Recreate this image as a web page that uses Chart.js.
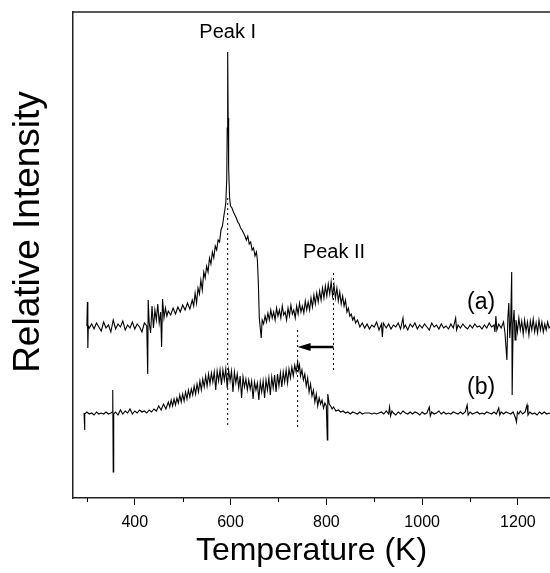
<!DOCTYPE html>
<html>
<head>
<meta charset="utf-8">
<script src="https://cdn.jsdelivr.net/npm/chart.js@4.4.1/dist/chart.umd.min.js"></script>
<style>
  html, body { margin: 0; padding: 0; background: #fff; }
  #wrap { width: 550px; height: 573px; }
</style>
</head>
<body>
<div id="wrap"><canvas id="tl-chart"></canvas></div>
<script>
// x axis labels
const xTicks = [400, 600, 800, 1000, 1200];
const xMinorTicks = [300, 500, 700, 900, 1100];

// peak temperatures (K): Peak I of (a), shifted Peak II of (b), Peak II of (a)
const peakTemps = [594, 740, 815];

// trace (a): [temperature K, intensity a.u.]
const traceA = [
  [300,172],[301,196],[302,150],[303,172],[305,170],[310,174],[315,169],[320,175],[325,171],[330,167],
  [335,176],[340,170],[345,173],[350,166],[355,178],[360,169],[365,174],[370,171],[375,177],[380,168],
  [385,173],[390,170],[395,176],[400,169],[405,174],[410,171],[415,166],[420,175],[425,172],[427,124],
  [428,198],[430,176],[433,165],[436,192],[439,170],[442,188],[445,178],[448,194],[451,175],[454,186],
  [456,151],[458,199],[461,180],[464,190],[467,182],[470,187],[475,183],[480,190],[485,184],[490,191],
  [495,186],[500,193],[505,188],[510,195],[515,189],[520,198],[523,192],[526,205],[529,195],[532,210],
  [535,204],[538,218],[541,208],[544,226],[547,220],[550,232],[553,226],[556,240],[559,234],[562,246],
  [565,240],[568,252],[571,248],[574,258],[577,256],[580,268],[583,272],[586,282],[588,288],[590,295],
  [592,318],[593,370],[594,446],[595,380],[596,330],[598,300],[600,292],[603,290],[606,286],[609,283],
  [612,280],[615,276],[618,274],[621,270],[624,268],[627,265],[630,262],[633,258],[636,262],[639,254],
  [642,256],[645,248],[648,250],[651,242],[654,246],[656,238],[658,215],[660,180],[662,170],[664,160],
  [666,178],[669,174],[672,182],[675,176],[678,185],[681,178],[684,188],[687,180],[690,186],[693,178],
  [696,190],[699,182],[702,188],[705,180],[708,192],[711,183],[714,186],[717,178],[720,190],[723,182],
  [726,193],[729,184],[732,188],[735,180],[738,192],[741,184],[744,195],[747,186],[750,192],[753,185],
  [756,197],[759,188],[762,196],[765,188],[768,200],[771,191],[774,203],[777,194],[780,205],[783,196],
  [786,207],[789,198],[792,210],[795,200],[798,212],[801,202],[804,214],[807,204],[810,216],[813,202],
  [816,213],[819,200],[822,210],[825,197],[828,206],[831,194],[834,202],[837,192],[840,198],[843,186],
  [846,190],[849,182],[852,184],[855,178],[858,181],[861,175],[865,178],[870,171],[875,175],[880,170],
  [885,174],[890,169],[895,173],[900,171],[905,176],[910,168],[915,174],[917,161],[919,175],[925,170],
  [930,174],[935,169],[940,173],[945,171],[950,175],[955,169],[960,180],[962,170],[965,173],[970,168],
  [975,174],[980,171],[985,175],[990,169],[995,173],[1000,170],[1005,174],[1010,171],[1015,168],[1020,175],
  [1025,171],[1030,173],[1035,169],[1040,174],[1045,170],[1050,172],[1055,169],[1060,174],[1065,170],[1070,180],
  [1072,168],[1075,173],[1080,170],[1085,174],[1090,171],[1095,169],[1100,173],[1105,170],[1110,174],[1115,171],
  [1120,172],[1125,169],[1130,173],[1135,170],[1140,175],[1145,171],[1150,173],[1152,166],[1154,182],[1156,168],
  [1160,174],[1165,170],[1170,176],[1173,165],[1177,138],[1179,180],[1181,195],[1183,160],[1185,178],[1187,226],
  [1188,103],[1190,175],[1192,188],[1194,158],[1196,178],[1199,166],[1202,180],[1205,168],[1208,177],[1211,164],
  [1214,178],[1217,167],[1220,176],[1223,163],[1226,177],[1229,168],[1232,179],[1235,166],[1238,175],[1241,165],
  [1244,178],[1247,168],[1250,176],[1253,166],[1256,174],[1259,168],[1262,176],[1265,170],[1268,172]
];

// trace (b): [temperature K, intensity a.u.]
const traceB = [
  [294,85],[295,68],[296,84],[300,86],[305,84],[310,85],[315,83],[320,86],[325,84],[330,85],
  [335,84],[340,86],[345,84],[350,85],[353,86],[354,108],[355,26],[356,84],[360,86],[365,83],
  [370,88],[375,84],[380,87],[385,85],[390,89],[395,84],[400,87],[405,85],[410,88],[415,86],
  [420,87],[425,85],[430,88],[435,86],[440,89],[445,87],[450,92],[455,88],[460,94],[465,89],
  [470,96],[473,91],[476,98],[479,92],[482,99],[485,93],[488,100],[491,95],[494,103],[497,96],
  [500,104],[503,97],[506,106],[509,99],[512,108],[515,101],[518,109],[521,103],[524,112],[527,104],
  [530,114],[533,106],[536,117],[539,108],[542,119],[545,111],[548,122],[551,112],[554,124],[557,114],
  [560,125],[563,116],[566,126],[569,108],[572,127],[575,117],[578,128],[581,113],[584,128],[587,118],
  [590,129],[593,110],[596,128],[599,117],[602,127],[605,106],[608,126],[611,115],[614,124],[617,110],
  [620,122],[623,100],[626,121],[629,111],[632,119],[635,108],[638,118],[641,109],[644,117],[647,99],
  [650,116],[653,108],[656,115],[659,98],[662,116],[665,106],[668,117],[671,100],[674,118],[677,108],
  [680,120],[683,103],[686,121],[689,110],[692,123],[695,106],[698,124],[701,112],[704,125],[707,111],
  [710,126],[713,116],[716,128],[719,115],[722,129],[725,120],[728,131],[731,122],[734,133],[737,126],
  [740,136],[742,128],[744,133],[746,122],[749,128],[752,118],[755,124],[758,112],[761,120],[764,106],
  [767,114],[770,102],[773,108],[776,96],[779,104],[782,92],[785,100],[788,94],[791,98],[794,90],
  [797,95],[800,92],[802,58],[803,104],[806,94],[809,92],[812,89],[815,91],[820,87],[825,88],
  [830,86],[835,87],[840,85],[845,86],[850,84],[855,86],[860,85],[865,84],[870,86],[875,84],
  [880,85],[885,85],[890,85],[895,84],[900,85],[905,84],[910,85],[915,86],[920,84],[925,87],
  [930,84],[932,91],[934,82],[937,87],[940,85],[945,83],[950,86],[955,84],[960,87],[965,85],
  [970,84],[975,86],[980,84],[985,86],[990,85],[995,83],[1000,86],[1005,84],[1010,85],[1015,91],
  [1017,82],[1020,86],[1025,84],[1030,85],[1035,87],[1040,84],[1045,86],[1050,84],[1055,85],[1060,84],
  [1065,86],[1070,85],[1075,84],[1080,86],[1085,84],[1090,86],[1094,93],[1096,83],[1100,86],[1105,84],
  [1110,85],[1115,86],[1120,84],[1125,85],[1130,84],[1135,86],[1140,85],[1145,84],[1150,86],[1155,84],
  [1160,90],[1162,83],[1165,86],[1170,84],[1175,86],[1180,85],[1185,84],[1190,86],[1195,80],[1197,76],
  [1199,86],[1202,84],[1205,87],[1210,84],[1215,86],[1219,93],[1221,83],[1225,86],[1230,84],[1235,85],
  [1240,83],[1245,86],[1250,84],[1255,86],[1260,84],[1265,85],[1268,84]
];

const toXY = (arr) => arr.map(p => ({ x: p[0], y: p[1] }));

// vertical dotted guide lines: [temperature, from, to]
const guides = [
  { t: peakTemps[0], y0: 300, y1: 70 },
  { t: peakTemps[1], y0: 168, y1: 70 },
  { t: peakTemps[2], y0: 225, y1: 128 }
];
const arrowLevel = 151;

const labels = [
  { text: 'Peak I', x: 594, y: 466, size: 20 },
  { text: 'Peak II', x: 816, y: 246, size: 20 },
  { text: '(a)', x: 1123, y: 195, size: 23 },
  { text: '(b)', x: 1123, y: 110, size: 23 }
];

const FONT = 'Arial, "Liberation Sans", sans-serif';

const datasets = [
  { data: toXY(traceA), borderColor: '#000', borderWidth: 1.1 },
  { data: toXY(traceB), borderColor: '#000', borderWidth: 1.1 }
];
guides.forEach(g => {
  datasets.push({
    data: [{ x: g.t, y: g.y0 }, { x: g.t, y: g.y1 }],
    borderColor: '#000', borderWidth: 1, borderDash: [2, 3]
  });
});
// arrow shaft from Peak II (a) to Peak II (b)
datasets.push({
  data: [{ x: peakTemps[2], y: arrowLevel }, { x: peakTemps[1] + 18, y: arrowLevel }],
  borderColor: '#000', borderWidth: 2.5
});

const extras = {
  id: 'extras',
  afterDatasetsDraw(chart) {
    const { ctx, chartArea, scales: { x, y } } = chart;
    ctx.save();
    // top frame line
    ctx.strokeStyle = '#222';
    ctx.lineWidth = 1.5;
    ctx.beginPath();
    ctx.moveTo(chartArea.left, chartArea.top);
    ctx.lineTo(chartArea.right, chartArea.top);
    ctx.stroke();
    // minor ticks
    ctx.lineWidth = 1;
    ctx.strokeStyle = '#000';
    xMinorTicks.forEach(v => {
      const px = Math.round(x.getPixelForValue(v)) + 0.5;
      ctx.beginPath();
      ctx.moveTo(px, chartArea.bottom);
      ctx.lineTo(px, chartArea.bottom + 4);
      ctx.stroke();
    });
    // arrow head
    const ax = x.getPixelForValue(peakTemps[1]);
    const ay = y.getPixelForValue(arrowLevel);
    ctx.fillStyle = '#000';
    ctx.beginPath();
    ctx.moveTo(ax, ay);
    ctx.lineTo(ax + 13, ay - 4);
    ctx.lineTo(ax + 13, ay + 4);
    ctx.closePath();
    ctx.fill();
    // text labels
    ctx.textAlign = 'center';
    ctx.textBaseline = 'middle';
    labels.forEach(l => {
      ctx.font = l.size + 'px ' + FONT;
      ctx.fillText(l.text, x.getPixelForValue(l.x), y.getPixelForValue(l.y));
    });
    // y axis title
    ctx.font = '37px ' + FONT;
    ctx.translate(29, 232);
    ctx.rotate(-Math.PI / 2);
    ctx.fillText('Relative Intensity', 0, 0);
    ctx.restore();
  }
};

new Chart(document.getElementById('tl-chart'), {
  type: 'line',
  data: { datasets: datasets },
  plugins: [extras],
  options: {
    responsive: true,
    maintainAspectRatio: false,
    animation: false,
    layout: { padding: { top: 12, left: 0, right: 0, bottom: 0 } },
    elements: { point: { radius: 0 }, line: { tension: 0 } },
    plugins: { legend: { display: false }, tooltip: { enabled: false } },
    scales: {
      x: {
        type: 'linear',
        min: 271,
        max: 1267,
        afterBuildTicks: (s) => { s.ticks = xTicks.map(v => ({ value: v })); },
        afterFit: (s) => { s.height = 75; },
        grid: { drawOnChartArea: false, drawTicks: true, tickLength: 7, color: '#000' },
        border: { display: true, color: '#222', width: 1.5 },
        ticks: {
          color: '#000', padding: 8, maxRotation: 0,
          font: { family: FONT, size: 16 },
          callback: (v) => String(v)
        },
        title: {
          display: true, text: 'Temperature (K)', color: '#000',
          font: { family: FONT, size: 32 }, padding: { top: 0, bottom: 3 }
        }
      },
      y: {
        min: 0,
        max: 486,
        afterFit: (s) => { s.width = 73; },
        grid: { display: false },
        border: { display: true, color: '#222', width: 1.5 },
        ticks: { display: false },
        title: { display: false }
      }
    }
  }
});
</script>
</body>
</html>
